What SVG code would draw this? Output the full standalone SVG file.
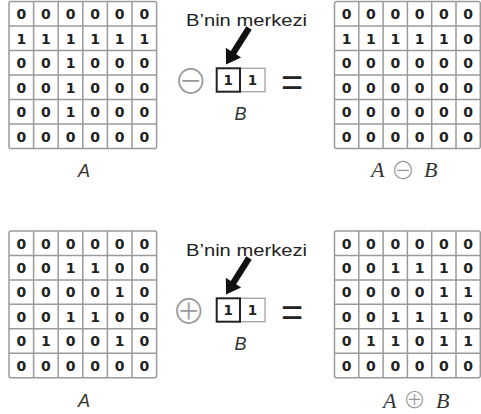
<svg xmlns="http://www.w3.org/2000/svg" width="481" height="414" viewBox="0 0 481 414">
<style>
.bg{fill:#fff}
.grid{fill:none;stroke:#9a9a9a;stroke-width:1.5}
.d{font-family:"DejaVu Sans",sans-serif;font-weight:bold;font-size:14px;fill:#222;text-anchor:middle}
.bd{font-family:"DejaVu Sans",sans-serif;font-weight:bold;font-size:13.5px;fill:#222;text-anchor:middle}
.lbl{font-family:"Liberation Sans",Arial,sans-serif;font-style:italic;font-size:18px;fill:#333;text-anchor:middle}
.cap{font-family:"Liberation Sans",Arial,sans-serif;font-size:17px;fill:#222}
.math{font-family:"Liberation Serif","Times New Roman",serif;font-style:italic;font-size:22px;fill:#333}
.op{font-family:"Noto Sans CJK SC","DejaVu Sans",sans-serif;font-weight:300;fill:#999;text-anchor:middle}
.eq{font-family:"Liberation Sans",Arial,sans-serif;font-size:38px;fill:#222;text-anchor:middle}
.bold{fill:#fff;stroke:#222;stroke-width:2}
.thin{fill:#fff;stroke:#999;stroke-width:1.2}
.arrow{fill:#111}
</style>
<rect class="bg" x="0" y="0" width="481" height="414"/>

<g id="gridA1">
<rect class="grid" x="9" y="1.5" width="147.6" height="147" rx="2"/>
<path class="grid" d="M33.6 1.5V148.5M58.2 1.5V148.5M82.8 1.5V148.5M107.4 1.5V148.5M132 1.5V148.5M9 26H156.6M9 50.5H156.6M9 75H156.6M9 99.5H156.6M9 124H156.6"/>
<text class="d" x="21.3 45.9 70.5 95.1 119.7 144.3" y="19">000000</text>
<text class="d" x="21.3 45.9 70.5 95.1 119.7 144.3" y="43.5">111111</text>
<text class="d" x="21.3 45.9 70.5 95.1 119.7 144.3" y="68">001000</text>
<text class="d" x="21.3 45.9 70.5 95.1 119.7 144.3" y="92.5">001000</text>
<text class="d" x="21.3 45.9 70.5 95.1 119.7 144.3" y="117">001000</text>
<text class="d" x="21.3 45.9 70.5 95.1 119.7 144.3" y="141.5">000000</text>
<text class="lbl" x="84" y="176.5">A</text>
</g>

<g id="gridR1">
<rect class="grid" x="334.5" y="1.5" width="145.8" height="147" rx="2"/>
<path class="grid" d="M358.8 1.5V148.5M383.1 1.5V148.5M407.4 1.5V148.5M431.7 1.5V148.5M456 1.5V148.5M334.5 26H480.3M334.5 50.5H480.3M334.5 75H480.3M334.5 99.5H480.3M334.5 124H480.3"/>
<text class="d" x="346.65 370.95 395.25 419.55 443.85 468.15" y="19">000000</text>
<text class="d" x="346.65 370.95 395.25 419.55 443.85 468.15" y="43.5">111110</text>
<text class="d" x="346.65 370.95 395.25 419.55 443.85 468.15" y="68">000000</text>
<text class="d" x="346.65 370.95 395.25 419.55 443.85 468.15" y="92.5">000000</text>
<text class="d" x="346.65 370.95 395.25 419.55 443.85 468.15" y="117">000000</text>
<text class="d" x="346.65 370.95 395.25 419.55 443.85 468.15" y="141.5">000000</text>
<text y="177"><tspan class="math" x="371">A</tspan><tspan class="op" x="403" y="179" font-size="24">⊖</tspan><tspan class="math" x="424" y="177">B</tspan></text>
</g>

<g id="kernel1">
<text class="cap" x="186" y="25.5" textLength="121" lengthAdjust="spacingAndGlyphs">B’nin merkezi</text>
<text class="op" x="190.7" y="94" font-size="34">⊖</text>
<rect class="thin" x="240" y="68.3" width="25" height="23.4"/>
<rect class="bold" x="216.7" y="68.3" width="23.3" height="23.4"/>
<text class="bd" x="228.3" y="85">1</text>
<text class="bd" x="252.5" y="85">1</text>
<text class="eq" x="292" y="96">=</text>
<text class="lbl" x="240.5" y="119.5">B</text>
</g>

<g id="gridA2">
<rect class="grid" x="9" y="231" width="147.6" height="146.7" rx="2"/>
<path class="grid" d="M33.6 231V377.7M58.2 231V377.7M82.8 231V377.7M107.4 231V377.7M132 231V377.7M9 255.45H156.6M9 279.9H156.6M9 304.35H156.6M9 328.8H156.6M9 353.25H156.6"/>
<text class="d" x="21.3 45.9 70.5 95.1 119.7 144.3" y="248.5">000000</text>
<text class="d" x="21.3 45.9 70.5 95.1 119.7 144.3" y="272.9">001100</text>
<text class="d" x="21.3 45.9 70.5 95.1 119.7 144.3" y="297.3">000010</text>
<text class="d" x="21.3 45.9 70.5 95.1 119.7 144.3" y="321.8">001100</text>
<text class="d" x="21.3 45.9 70.5 95.1 119.7 144.3" y="346.2">010010</text>
<text class="d" x="21.3 45.9 70.5 95.1 119.7 144.3" y="370.7">000000</text>
<text class="lbl" x="84" y="407">A</text>
</g>

<g id="gridR2">
<rect class="grid" x="334.5" y="231" width="145.8" height="146.7" rx="2"/>
<path class="grid" d="M358.8 231V377.7M383.1 231V377.7M407.4 231V377.7M431.7 231V377.7M456 231V377.7M334.5 255.45H480.3M334.5 279.9H480.3M334.5 304.35H480.3M334.5 328.8H480.3M334.5 353.25H480.3"/>
<text class="d" x="346.65 370.95 395.25 419.55 443.85 468.15" y="248.5">000000</text>
<text class="d" x="346.65 370.95 395.25 419.55 443.85 468.15" y="272.9">001110</text>
<text class="d" x="346.65 370.95 395.25 419.55 443.85 468.15" y="297.3">000011</text>
<text class="d" x="346.65 370.95 395.25 419.55 443.85 468.15" y="321.8">001110</text>
<text class="d" x="346.65 370.95 395.25 419.55 443.85 468.15" y="346.2">011011</text>
<text class="d" x="346.65 370.95 395.25 419.55 443.85 468.15" y="370.7">000000</text>
<text y="407.5"><tspan class="math" x="383">A</tspan><tspan class="op" x="414.5" y="408" font-size="23">⊕</tspan><tspan class="math" x="436" y="407.5">B</tspan></text>
</g>

<g id="kernel2">
<text class="cap" x="186" y="255.5" textLength="121" lengthAdjust="spacingAndGlyphs">B’nin merkezi</text>
<text class="op" x="188.8" y="323.8" font-size="34">⊕</text>
<rect class="thin" x="240" y="298.3" width="25" height="23.4"/>
<rect class="bold" x="216.7" y="298.3" width="23.3" height="23.4"/>
<text class="bd" x="228.3" y="315">1</text>
<text class="bd" x="252.5" y="315">1</text>
<text class="eq" x="292" y="326">=</text>
<text class="lbl" x="240.5" y="349.5">B</text>
</g>

<g id="connectors">
<polygon class="arrow" points="246.29,26.29 251.71,29.71 236.17,54.35 241.08,57.44 226,64.5 225.84,47.84 230.75,50.93"/>
<polygon class="arrow" points="246.29,256.29 251.71,259.71 236.17,284.35 241.08,287.44 226,294.5 225.84,277.84 230.75,280.93"/>
</g>
</svg>
